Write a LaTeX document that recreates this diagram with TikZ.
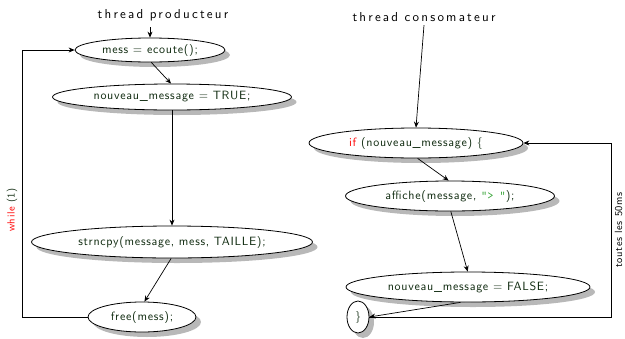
\documentclass[tikz,border=0pt]{standalone}
\usepackage{fontspec}
\setsansfont{lmsans10-regular.otf}
\usetikzlibrary{shadows,arrows.meta,shapes.geometric}
\definecolor{codegreen}{HTML}{0F2A0F}
\definecolor{strgreen}{HTML}{2EA02E}
\begin{document}
\begin{tikzpicture}[x=1pt,y=-1pt,
  font=\sffamily\fontsize{12}{14}\selectfont\addfontfeature{LetterSpace=6},
  stm/.style={ellipse, draw, thick, fill=white, inner sep=0pt, text=codegreen,
    drop shadow={shadow xshift=5pt, shadow yshift=-5pt, fill=black!28, opacity=1}},
  arr/.style={-{Stealth[length=6pt,width=5pt,inset=2pt]}, line width=0.7pt},
  lbl/.style={font=\sffamily\fontsize{13}{15}\selectfont\addfontfeature{LetterSpace=17}},
  side/.style={rotate=90, font=\sffamily\fontsize{10.5}{12}\selectfont\addfontfeature{LetterSpace=6}}]
\useasboundingbox (0,0) rectangle (625,338);
% producer
\node[lbl] (tp) at (163,15) {thread producteur};
\node[stm, minimum width=150pt, minimum height=24pt] (e1) at (150,50) {mess = ecoute();};
\node[stm, minimum width=239pt, minimum height=26pt] (e2) at (172,97) {nouveau\_message = TRUE;};
\node[stm, minimum width=281pt, minimum height=32pt] (e3) at (172,242) {strncpy(message, mess, TAILLE);};
\node[stm, minimum width=108pt, minimum height=30pt] (e4) at (142,317) {free(mess);};
\coordinate (tpa) at (150,27);
\draw[arr] (tpa) -- (e1.north);
\draw[arr] (e1.-84) -- (e2.94);
\draw[arr] (e2.south) -- (e3.north);
\draw[arr] (e3.-93) -- (e4.81);
\coordinate (la) at (22,317);
\coordinate (lb) at (22,50);
\draw[arr] (e4.west) -- (la) -- (lb) -- (e1.west);
\node[side, text=codegreen] (wh) at (12,210) {\textcolor{red}{while} (1)};
% consumer
\node[lbl] (tc) at (424,17) {thread consomateur};
\node[stm, minimum width=214pt, minimum height=30pt] (c1) at (416,143) {\textcolor{red}{if} (nouveau\_message) \{};
\node[stm, minimum width=209pt, minimum height=30pt] (c2) at (450,196) {affiche(message, \textcolor{strgreen}{\ttfamily"> "});};
\node[stm, minimum width=244pt, minimum height=30pt] (c3) at (468,287) {nouveau\_message = FALSE;};
\node[stm, minimum width=22pt, minimum height=32pt] (c4) at (358,317) {\}};
\draw[arr] (tc.south) -- (c1.north);
\draw[arr] (c1.-84) -- (c2.95);
\draw[arr] (c2.-87) -- (c3.91);
\draw[arr] (c3.-116) -- (c4.east);
\coordinate (ra) at (611,317);
\coordinate (rb) at (611,143);
\draw[arr] (c4.east) -- (ra) -- (rb) -- (c1.east);
\node[side] (tl) at (618.5,230) {toutes les 50ms};
\end{tikzpicture}
\end{document}
